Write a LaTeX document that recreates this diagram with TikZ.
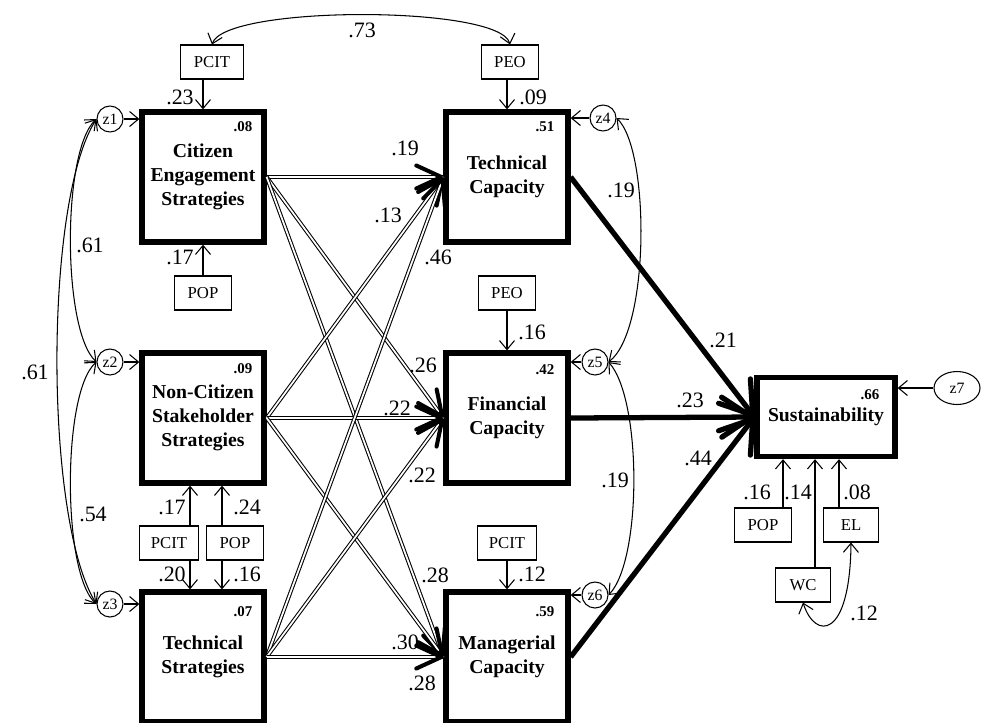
\documentclass[tikz,border=0pt]{standalone}
\usepackage{fontspec}
\setmainfont{Liberation Serif}
\usetikzlibrary{arrows.meta,shapes.geometric,calc}

\begin{document}
\begin{tikzpicture}[x=0.2mm,y=-0.2mm,
  bigbox/.style={draw,line width=3pt,minimum width=24.4mm,minimum height=26mm,align=center,font=\fontsize{11.2}{13.6}\selectfont\bfseries},
  smallbox/.style={draw,line width=0.6pt,minimum width=11mm,minimum height=6.8mm,inner xsep=2.6mm,font=\fontsize{9.5}{11}\selectfont},
  err/.style={draw,circle,line width=0.6pt,minimum size=5.2mm,inner sep=0pt,font=\fontsize{9}{10}\selectfont},
  rsq/.style={font=\fontsize{8.5}{10}\selectfont\bfseries,inner sep=0pt},
  coef/.style={font=\fontsize{12.5}{14}\selectfont,inner sep=0pt},
  arr/.style={line width=0.6pt,-{Straight Barb[length=1.8mm,width=3mm]}},
  cov/.style={line width=0.6pt,{Straight Barb[length=1.8mm,width=3mm]}-{Straight Barb[length=1.8mm,width=3mm]}},
  dbl/.style={double,line width=0.6pt,double distance=1pt},
  dbltip/.style={line width=2.3pt,-{Straight Barb[length=5mm,width=4.6mm,round]}},
  heavy/.style={line width=3pt,-{Straight Barb[length=6mm,width=8mm,round]}}]
\useasboundingbox (0,0) rectangle (983,722);

% strategies
\node[bigbox] (ce) at (203,177) {Citizen\\Engagement\\Strategies};
\node[bigbox] (ncs) at (203,418) {Non-Citizen\\Stakeholder\\Strategies};
\node[bigbox] (ts) at (203,657) {Technical\\Strategies};
% capacities
\node[bigbox] (tc) at (507,177) {Technical\\Capacity};
\node[bigbox] (fc) at (507,418) {Financial\\Capacity};
\node[bigbox] (mc) at (507,657) {Managerial\\Capacity};
\node[bigbox,minimum width=27.6mm,minimum height=15.8mm] (sus) at (826,417) {Sustainability};

\node[rsq] (rce) at (243,127) {.08};
\node[rsq] (rncs) at (243,369) {.09};
\node[rsq] (rts) at (243,612) {.07};
\node[rsq] (rtc) at (545,127) {.51};
\node[rsq] (rfc) at (545,370) {.42};
\node[rsq] (rmc) at (545,612) {.59};
\node[rsq] (rsus) at (870,395) {.66};

% controls
\node[smallbox] (pcit1) at (212,62) {PCIT};
\node[smallbox] (peo1) at (510,62) {PEO};
\node[smallbox] (pop1) at (203,293) {POP};
\node[smallbox,inner xsep=2.2mm] (pcit2) at (169,543) {PCIT};
\node[smallbox] (pop2) at (235,543) {POP};
\node[smallbox] (peo2) at (507,293) {PEO};
\node[smallbox,inner xsep=2.2mm] (pcit3) at (507,543) {PCIT};
\node[smallbox] (pop3) at (763,525) {POP};
\node[smallbox] (wc) at (803,585) {WC};
\node[smallbox] (el) at (851,525) {EL};

% disturbances
\node[err] (z1) at (110,119) {z1};
\node[err] (z2) at (110,362) {z2};
\node[err] (z3) at (110,604) {z3};
\node[err] (z4) at (603,118) {z4};
\node[err] (z5) at (595,362) {z5};
\node[err] (z6) at (595,595) {z6};
\node[draw,ellipse,line width=0.6pt,minimum width=9.2mm,minimum height=6.6mm,inner sep=0pt,font=\fontsize{9}{10}\selectfont] (z7) at (957,388) {z7};

\coordinate (x1) at (190,0);
\coordinate (x2) at (222,0);
\coordinate (x3) at (783,0);
\coordinate (x4) at (815,0);
\coordinate (x5) at (839,0);

\draw[arr] (z1.east) -- (z1 -| ce.west);
\draw[arr] (z2.east) -- (z2 -| ncs.west);
\draw[arr] (z3.east) -- (z3 -| ts.west);
\draw[arr] (z4.west) -- (z4 -| tc.east);
\draw[arr] (z5.west) -- (z5 -| fc.east);
\draw[arr] (z6.west) -- (z6 -| mc.east);
\draw[arr] (z7.west) -- (z7 -| sus.east);

\draw[arr] (pcit1.south -| ce.north) -- (ce.north);
\draw[arr] (peo1.south -| tc.north) -- (tc.north);
\draw[arr] (pop1.north) -- (ce.south);
\draw[arr] (pcit2.north -| x1) -- (ncs.south -| x1);
\draw[arr] (pop2.north -| x2) -- (ncs.south -| x2);
\draw[arr] (pcit2.south -| x1) -- (ts.north -| x1);
\draw[arr] (pop2.south -| x2) -- (ts.north -| x2);
\draw[arr] (peo2.south) -- (fc.north);
\draw[arr] (pcit3.south) -- (mc.north);
\draw[arr] (pop3.north -| x3) -- (sus.south -| x3);
\draw[arr] (wc.north -| x4) -- (sus.south -| x4);
\draw[arr] (el.north -| x5) -- (sus.south -| x5);

\draw[cov] (pcit1.north) .. controls (225,5) and (500,5) .. (peo1.north);
\draw[cov] (z1.west) .. controls (62,150) and (62,330) .. (z2.west);
\draw[cov] (z2.west) .. controls (62,392) and (62,574) .. (z3.west);
\draw[cov] (z1.west) .. controls (44,200) and (44,520) .. (z3.west);
\draw[cov] (z4.east) .. controls (650,150) and (650,330) .. (z5.east);
\draw[cov] (z5.east) .. controls (642,400) and (642,560) .. (z6.east);
\draw[cov] (wc.south) .. controls (815,640) and (850,640) .. (el.south);

\foreach \s in {ce,ncs,ts}
  \foreach \t in {tc,fc,mc}{
    \draw[dbl] (\s.east) -- (\t.west);
    \draw[dbltip] ($(\t.west)!1mm!(\s.east)$) -- (\t.west);
  }

\draw[heavy] (tc.east) -- (sus.west);
\draw[heavy] (fc.east) -- (sus.west);
\draw[heavy] (mc.east) -- (sus.west);

% coefficients
\node[coef] (k1) at (362,30) {.73};
\node[coef] (k2) at (180,97) {.23};
\node[coef] (k3) at (533,97) {.09};
\node[coef] (k4) at (180,257) {.17};
\node[coef] (k5) at (90,245) {.61};
\node[coef] (k6) at (35,372) {.61};
\node[coef] (k7) at (93,514) {.54};
\node[coef] (k8) at (172,507) {.17};
\node[coef] (k9) at (247,507) {.24};
\node[coef] (k10) at (172,574) {.20};
\node[coef] (k11) at (247,574) {.16};
\node[coef] (k12) at (405,148) {.19};
\node[coef] (k13) at (388,215) {.13};
\node[coef] (k14) at (438,257) {.46};
\node[coef] (k15) at (423,365) {.26};
\node[coef] (k16) at (397,408) {.22};
\node[coef] (k17) at (422,475) {.22};
\node[coef] (k18) at (435,575) {.28};
\node[coef] (k19) at (405,642) {.30};
\node[coef] (k20) at (422,683) {.28};
\node[coef] (k21) at (532,332) {.16};
\node[coef] (k22) at (532,574) {.12};
\node[coef] (k23) at (621,190) {.19};
\node[coef] (k24) at (615,480) {.19};
\node[coef] (k25) at (723,340) {.21};
\node[coef] (k26) at (690,400) {.23};
\node[coef] (k27) at (698,458) {.44};
\node[coef] (k28) at (757,492) {.16};
\node[coef] (k29) at (798,492) {.14};
\node[coef] (k30) at (857,492) {.08};
\node[coef] (k31) at (864,613) {.12};
\end{tikzpicture}
\end{document}
